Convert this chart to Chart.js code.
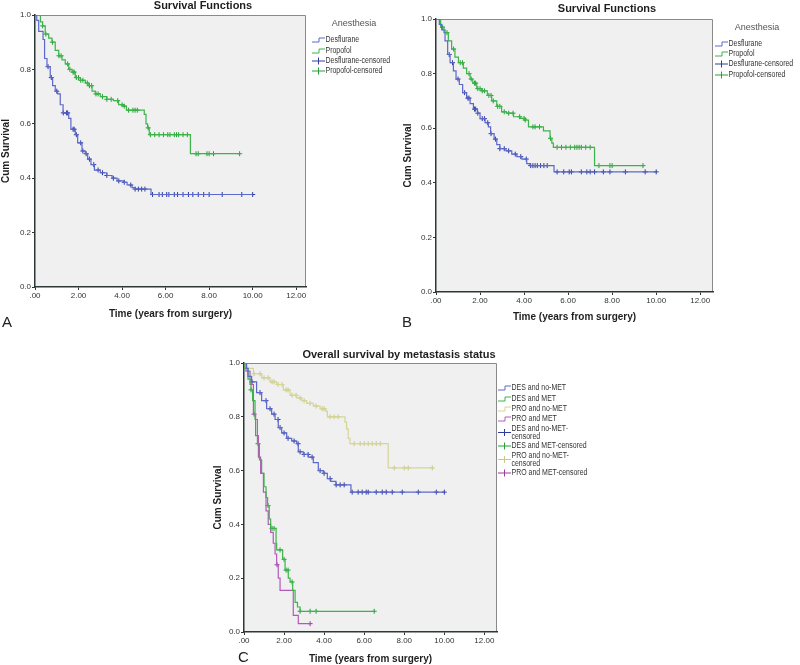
<!DOCTYPE html>
<html>
<head>
<meta charset="utf-8">
<script src="https://cdn.jsdelivr.net/npm/chart.js@4.4.1/dist/chart.umd.min.js"></script>
<style>
  body { margin: 0; background: #fff; width: 800px; height: 665px; position: relative; overflow: hidden; font-family: "Liberation Sans", Arial, sans-serif; }
  canvas { position: absolute; }
  .tag { position: absolute; font-size: 15px; color: #222; }
</style>
</head>
<body>
<canvas id="chartA" width="400" height="330" style="left:0;top:0"></canvas>
<canvas id="chartB" width="400" height="330" style="left:400px;top:0"></canvas>
<canvas id="chartC" width="400" height="335" style="left:200px;top:330px"></canvas>
<div class="tag" style="left:2px;top:313px">A</div>
<div class="tag" style="left:402px;top:313px">B</div>
<div class="tag" style="left:238px;top:648px">C</div>

<script>
// axis ticks
const xTicks = [0, 2, 4, 6, 8, 10, 12];
const yTicks = [0, 0.2, 0.4, 0.6, 0.8, 1.0];

// panel A - event times / survival level after the step
const desA_time = [0, 0.08, 0.17, 0.37, 0.44, 0.55, 0.70, 0.81, 0.93, 1.04, 1.16, 1.29, 1.55, 1.65, 1.85, 1.96, 2.16, 2.31, 2.42, 2.57, 2.73, 3.0, 3.3, 3.54, 3.77, 4.07, 4.23, 4.46, 4.6, 5.33, 10.0];
const desA_surv = [1.0, 0.98, 0.94, 0.91, 0.84, 0.81, 0.77, 0.74, 0.72, 0.71, 0.67, 0.64, 0.62, 0.58, 0.56, 0.53, 0.50, 0.49, 0.47, 0.45, 0.43, 0.42, 0.41, 0.40, 0.39, 0.385, 0.375, 0.365, 0.36, 0.34, 0.34];
const desA_cens = [0.6, 0.75, 1.0, 1.3, 1.45, 1.5, 1.75, 1.8, 1.9, 2.1, 2.2, 2.35, 2.5, 2.7, 2.9, 3.1, 3.3, 3.6, 3.85, 4.1, 4.4, 4.6, 4.75, 4.9, 5.05, 5.4, 5.7, 5.85, 6.05, 6.15, 6.4, 6.55, 6.8, 7.05, 7.25, 7.5, 7.75, 8.0, 8.6, 9.5, 10.0];
const proA_time = [0, 0.25, 0.35, 0.47, 0.63, 0.78, 0.93, 1.09, 1.24, 1.39, 1.55, 1.7, 1.85, 2.08, 2.31, 2.47, 2.62, 2.77, 3.0, 3.3, 3.6, 3.84, 4.07, 4.2, 5.02, 5.1, 5.17, 5.25, 7.14, 9.4];
const proA_surv = [1.0, 0.975, 0.96, 0.93, 0.915, 0.90, 0.87, 0.85, 0.835, 0.82, 0.80, 0.79, 0.77, 0.76, 0.75, 0.74, 0.72, 0.71, 0.70, 0.69, 0.685, 0.67, 0.665, 0.65, 0.635, 0.60, 0.585, 0.56, 0.49, 0.49];
const proA_cens = [0.35, 0.5, 0.8, 1.1, 1.2, 1.5, 1.6, 1.75, 1.8, 1.9, 2.0, 2.1, 2.2, 2.4, 2.5, 2.6, 2.8, 2.9, 3.1, 3.3, 3.5, 3.8, 4.0, 4.1, 4.3, 4.5, 4.6, 4.7, 5.2, 5.3, 5.5, 5.7, 5.9, 6.1, 6.2, 6.4, 6.5, 6.6, 6.8, 7.0, 7.4, 7.5, 7.9, 8.0, 8.2, 9.4];

// panel B
const desB_time = [0, 0.15, 0.26, 0.41, 0.53, 0.64, 0.79, 0.91, 1.06, 1.21, 1.39, 1.55, 1.7, 1.88, 2.0, 2.23, 2.38, 2.48, 2.64, 2.76, 2.9, 3.18, 3.44, 3.67, 3.9, 4.12, 4.27, 5.36, 10.0];
const desB_surv = [1.0, 0.98, 0.96, 0.92, 0.87, 0.84, 0.81, 0.78, 0.76, 0.73, 0.71, 0.69, 0.67, 0.655, 0.635, 0.62, 0.605, 0.58, 0.56, 0.54, 0.525, 0.517, 0.505, 0.496, 0.487, 0.47, 0.463, 0.44, 0.44];
const desB_cens = [0.6, 0.75, 1.0, 1.3, 1.45, 1.5, 1.75, 1.8, 1.9, 2.1, 2.2, 2.35, 2.5, 2.7, 2.9, 3.1, 3.3, 3.6, 3.85, 4.1, 4.3, 4.4, 4.5, 4.6, 4.75, 4.9, 5.05, 5.5, 5.8, 6.05, 6.15, 6.6, 6.85, 7.0, 7.2, 7.6, 7.9, 8.6, 9.5, 10.0];
const proB_time = [0, 0.21, 0.36, 0.56, 0.71, 0.86, 1.02, 1.24, 1.39, 1.55, 1.67, 1.85, 2.08, 2.33, 2.53, 2.76, 2.98, 3.2, 3.52, 3.82, 4.05, 4.2, 4.88, 5.18, 5.26, 5.33, 7.2, 9.4];
const proB_surv = [1.0, 0.97, 0.95, 0.92, 0.89, 0.86, 0.84, 0.82, 0.80, 0.78, 0.765, 0.745, 0.737, 0.72, 0.70, 0.68, 0.66, 0.655, 0.642, 0.636, 0.63, 0.605, 0.59, 0.563, 0.545, 0.53, 0.463, 0.463];
const proB_cens = [0.3, 0.5, 0.8, 1.1, 1.2, 1.5, 1.6, 1.75, 1.8, 1.9, 2.0, 2.1, 2.2, 2.4, 2.5, 2.6, 2.8, 2.9, 3.1, 3.3, 3.5, 3.8, 4.0, 4.05, 4.4, 4.5, 4.7, 5.2, 5.5, 5.7, 5.9, 6.1, 6.3, 6.4, 6.5, 6.6, 6.8, 7.0, 7.4, 7.9, 8.0, 9.4];

// panel C
const desNoMet_time = [0, 0.13, 0.2, 0.38, 0.63, 0.88, 1.13, 1.38, 1.55, 1.71, 1.88, 2.13, 2.38, 2.63, 2.71, 2.96, 3.21, 3.46, 3.71, 3.96, 4.16, 4.33, 4.59, 5.34, 10.0];
const desNoMet_surv = [1.0, 0.98, 0.95, 0.93, 0.89, 0.86, 0.83, 0.81, 0.79, 0.76, 0.74, 0.72, 0.71, 0.70, 0.67, 0.66, 0.65, 0.63, 0.60, 0.59, 0.57, 0.56, 0.547, 0.52, 0.52];
const desNoMet_cens = [0.4, 0.8, 1.1, 1.3, 1.5, 1.7, 1.8, 2.0, 2.2, 2.5, 2.7, 2.8, 3.0, 3.2, 3.4, 3.8, 4.0, 4.3, 4.6, 4.8, 5.0, 5.4, 5.7, 5.9, 6.1, 6.2, 6.6, 6.9, 7.1, 7.4, 7.9, 8.7, 9.6, 10.0];
const desMet_time = [0, 0.05, 0.2, 0.35, 0.43, 0.55, 0.67, 0.77, 0.88, 1.0, 1.1, 1.18, 1.26, 1.33, 1.6, 1.63, 1.93, 2.05, 2.21, 2.3, 2.43, 2.55, 2.67, 2.8, 6.5];
const desMet_surv = [1.0, 0.98, 0.94, 0.90, 0.86, 0.79, 0.70, 0.64, 0.59, 0.54, 0.50, 0.47, 0.42, 0.385, 0.33, 0.305, 0.27, 0.23, 0.20, 0.186, 0.155, 0.11, 0.093, 0.077, 0.077];
const desMet_cens = [0.35, 0.7, 1.2, 1.4, 1.5, 1.8, 2.0, 2.1, 2.2, 2.4, 2.8, 3.3, 3.6, 6.5];
const proNoMet_time = [0, 0.1, 0.47, 0.88, 1.3, 1.63, 1.96, 2.3, 2.63, 2.88, 3.13, 3.46, 3.8, 4.09, 4.16, 5.04, 5.12, 5.2, 5.29, 7.2, 9.4];
const proNoMet_surv = [1.0, 0.98, 0.96, 0.945, 0.93, 0.92, 0.90, 0.88, 0.87, 0.86, 0.85, 0.84, 0.83, 0.82, 0.80, 0.78, 0.755, 0.72, 0.70, 0.61, 0.61];
const proNoMet_cens = [0.5, 0.8, 1.0, 1.2, 1.4, 1.5, 1.7, 1.9, 2.1, 2.2, 2.4, 2.6, 2.8, 3.0, 3.3, 3.6, 3.9, 4.0, 4.3, 4.5, 4.7, 5.5, 5.8, 6.0, 6.2, 6.4, 6.6, 6.8, 7.5, 8.0, 8.2, 9.4];
const proMet_time = [0, 0.1, 0.3, 0.47, 0.58, 0.72, 0.83, 0.97, 1.1, 1.21, 1.33, 1.46, 1.55, 1.63, 1.71, 1.8, 2.46, 2.71, 3.3];
const proMet_surv = [1.0, 0.97, 0.92, 0.81, 0.73, 0.65, 0.59, 0.52, 0.45, 0.40, 0.37, 0.33, 0.29, 0.25, 0.20, 0.155, 0.062, 0.031, 0.031];
const proMet_cens = [0.5, 1.65, 3.3];

const BLUE = '#5b68cc', BLUE_MK = '#2f3c9e';
const GREEN = '#3cb44a', GREEN_MK = '#25a135';
const YELLOW = '#d4d596', YELLOW_MK = '#c9ca86';
const PURPLE = '#b35ab8', PURPLE_MK = '#9a3aa0';

const sans = '"Liberation Sans", Arial, sans-serif';

// survival level of a step curve at time t
function survAt(times, survs, t) {
  let s = survs[0];
  for (let i = 0; i < times.length; i++) if (times[i] <= t) s = survs[i];
  return s;
}

const fmtX = v => (v === 0 ? '.00' : v.toFixed(2));

// plot background, box, title and SPSS style legend
const kmDecor = {
  id: 'kmDecor',
  beforeDraw(chart) {
    const { ctx, chartArea: a } = chart;
    ctx.save();
    ctx.fillStyle = '#f0f0f0';
    ctx.fillRect(a.left, a.top, a.right - a.left, a.bottom - a.top);
    ctx.strokeStyle = '#8a8a8a';
    ctx.lineWidth = 1;
    ctx.beginPath();
    ctx.moveTo(a.left, a.top + 0.5);
    ctx.lineTo(a.right - 0.5, a.top + 0.5);
    ctx.lineTo(a.right - 0.5, a.bottom);
    ctx.stroke();
    ctx.restore();
  },
  afterDraw(chart, args, o) {
    const ctx = chart.ctx;
    ctx.save();
    ctx.fillStyle = '#1e1e1e';
    ctx.font = 'bold 11px ' + sans;
    ctx.textAlign = 'center';
    ctx.textBaseline = 'middle';
    ctx.fillText(o.title, o.titleX, o.titleY);
    if (o.legendTitle) {
      ctx.fillStyle = '#555';
      ctx.font = '9px ' + sans;
      ctx.fillText(o.legendTitle, o.legendTitleX, o.legendTitleY);
    }
    ctx.textAlign = 'left';
    ctx.font = '8.5px ' + sans;
    const x0 = o.legendX;
    o.items.forEach(it => {
      const yc = it.y + (it.lines.length - 1) * 3.5;
      ctx.strokeStyle = it.color;
      ctx.lineWidth = 1;
      ctx.beginPath();
      if (it.kind === 'step') {
        ctx.moveTo(x0, yc + 2);
        ctx.lineTo(x0 + 7, yc + 2);
        ctx.lineTo(x0 + 7, yc - 2);
        ctx.lineTo(x0 + 13, yc - 2);
      } else {
        ctx.moveTo(x0, yc);
        ctx.lineTo(x0 + 13, yc);
        ctx.moveTo(x0 + 6.5, yc - 3.5);
        ctx.lineTo(x0 + 6.5, yc + 3.5);
      }
      ctx.stroke();
      ctx.fillStyle = '#333';
      it.lines.forEach((ln, i) => {
        // SPSS legend text is condensed
        ctx.save();
        ctx.translate(x0 + 13.5, it.y + i * 7.5);
        ctx.scale(0.82, 1);
        ctx.fillText(ln, 0, 0);
        ctx.restore();
      });
    });
    ctx.restore();
  }
};

function kmChart(id, cfg) {
  const datasets = [];
  cfg.series.forEach(s => {
    datasets.push({
      label: s.name,
      data: s.time.map((t, i) => ({ x: t, y: s.surv[i] })),
      showLine: true, stepped: true, borderColor: s.line, borderWidth: 1.2,
      pointRadius: 0, fill: false
    });
  });
  cfg.series.forEach(s => {
    datasets.push({
      label: s.name + '-censored',
      data: s.cens.map(t => ({ x: t, y: survAt(s.time, s.surv, t) })),
      showLine: false, pointStyle: 'cross', pointRadius: 2.5,
      borderColor: s.mark, borderWidth: 1
    });
  });

  const tickFont = { size: 8, family: sans };
  const titleFont = { size: 10, weight: 'bold', family: sans };

  return new Chart(document.getElementById(id), {
    type: 'scatter',
    data: { datasets },
    options: {
      responsive: false, animation: false, devicePixelRatio: 1,
      layout: { padding: cfg.pad },
      plugins: { legend: { display: false }, tooltip: { enabled: false }, kmDecor: cfg.decor },
      scales: {
        x: {
          type: 'linear', min: 0, max: cfg.xMax,
          afterFit: s => { s.height = cfg.xH; },
          afterBuildTicks: s => { s.ticks = xTicks.map(v => ({ value: v })); },
          ticks: { callback: fmtX, font: tickFont, color: '#333', padding: 1, maxRotation: 0, autoSkip: false },
          grid: { drawOnChartArea: false, drawTicks: true, tickLength: 3, color: '#333' },
          border: { color: '#2c3838', width: 1.5 },
          title: { display: true, text: 'Time (years from surgery)', font: titleFont, color: '#1e1e1e', padding: { top: 0, bottom: cfg.xTitlePad } }
        },
        y: {
          type: 'linear', min: 0, max: 1,
          afterFit: s => { s.width = cfg.yW; },
          afterBuildTicks: s => { s.ticks = yTicks.map(v => ({ value: v })); },
          ticks: { callback: v => v.toFixed(1), font: tickFont, color: '#333', padding: 1, autoSkip: false },
          grid: { drawOnChartArea: false, drawTicks: true, tickLength: 3, color: '#333' },
          border: { color: '#2c3838', width: 1.5 },
          title: { display: true, text: 'Cum Survival', font: titleFont, color: '#1e1e1e', padding: { top: cfg.yTitlePad, bottom: 0 } }
        }
      }
    },
    plugins: [kmDecor]
  });
}

const anesthesiaItems = (ys) => [
  { y: ys[0], lines: ['Desflurane'], color: BLUE, kind: 'step' },
  { y: ys[1], lines: ['Propofol'], color: GREEN, kind: 'step' },
  { y: ys[2], lines: ['Desflurane-censored'], color: BLUE_MK, kind: 'cens' },
  { y: ys[3], lines: ['Propofol-censored'], color: GREEN_MK, kind: 'cens' }
];

kmChart('chartA', {
  pad: { left: 0, top: 15, right: 94, bottom: 0 },
  xMax: 12.45, xH: 43, yW: 35, xTitlePad: 10, yTitlePad: 0,
  series: [
    { name: 'Desflurane', time: desA_time, surv: desA_surv, cens: desA_cens, line: BLUE, mark: BLUE_MK },
    { name: 'Propofol', time: proA_time, surv: proA_surv, cens: proA_cens, line: GREEN, mark: GREEN_MK }
  ],
  decor: {
    title: 'Survival Functions', titleX: 203, titleY: 6,
    legendTitle: 'Anesthesia', legendTitleX: 354, legendTitleY: 24,
    legendX: 312, items: anesthesiaItems([40, 51, 61, 71])
  }
});

kmChart('chartB', {
  pad: { left: 0, top: 19, right: 87, bottom: 0 },
  xMax: 12.58, xH: 38, yW: 36, xTitlePad: 7, yTitlePad: 2,
  series: [
    { name: 'Desflurane', time: desB_time, surv: desB_surv, cens: desB_cens, line: BLUE, mark: BLUE_MK },
    { name: 'Propofol', time: proB_time, surv: proB_surv, cens: proB_cens, line: GREEN, mark: GREEN_MK }
  ],
  decor: {
    title: 'Survival Functions', titleX: 207, titleY: 9,
    legendTitle: 'Anesthesia', legendTitleX: 357, legendTitleY: 28,
    legendX: 315, items: anesthesiaItems([44, 54, 64, 75])
  }
});

kmChart('chartC', {
  pad: { left: 0, top: 33, right: 103, bottom: 0 },
  xMax: 12.63, xH: 33, yW: 44, xTitlePad: 0, yTitlePad: 12,
  series: [
    { name: 'DES and no-MET', time: desNoMet_time, surv: desNoMet_surv, cens: desNoMet_cens, line: BLUE, mark: BLUE_MK },
    { name: 'DES and MET', time: desMet_time, surv: desMet_surv, cens: desMet_cens, line: GREEN, mark: GREEN_MK },
    { name: 'PRO and no-MET', time: proNoMet_time, surv: proNoMet_surv, cens: proNoMet_cens, line: YELLOW, mark: YELLOW_MK },
    { name: 'PRO and MET', time: proMet_time, surv: proMet_surv, cens: proMet_cens, line: PURPLE, mark: PURPLE_MK }
  ],
  decor: {
    title: 'Overall survival by metastasis status', titleX: 199, titleY: 25,
    legendX: 298,
    items: [
      { y: 58, lines: ['DES and no-MET'], color: BLUE, kind: 'step' },
      { y: 69, lines: ['DES and MET'], color: GREEN, kind: 'step' },
      { y: 79, lines: ['PRO and no-MET'], color: YELLOW, kind: 'step' },
      { y: 89, lines: ['PRO and MET'], color: PURPLE, kind: 'step' },
      { y: 99, lines: ['DES and no-MET-', 'censored'], color: BLUE_MK, kind: 'cens' },
      { y: 116, lines: ['DES and MET-censored'], color: GREEN_MK, kind: 'cens' },
      { y: 126, lines: ['PRO and no-MET-', 'censored'], color: YELLOW_MK, kind: 'cens' },
      { y: 143, lines: ['PRO and MET-censored'], color: PURPLE_MK, kind: 'cens' }
    ]
  }
});
</script>
</body>
</html>
